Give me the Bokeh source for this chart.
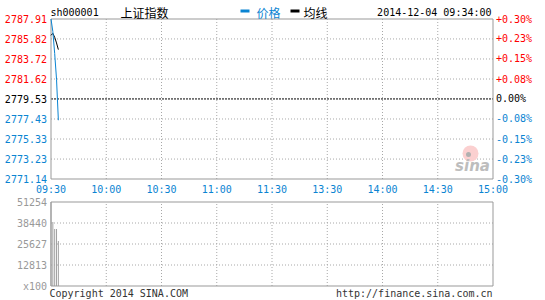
from bokeh.plotting import figure
from bokeh.models import ColumnDataSource, Range1d, Grid
from bokeh.embed import file_html
from bokeh.resources import INLINE
from bokeh.core.properties import value

# ---- data ----
prev_close = 2779.53
price_ticks = [2771.14, 2773.23, 2775.33, 2777.43, 2779.53, 2781.62, 2783.72, 2785.82, 2787.91]
price_tick_labels = ["2771.14", "2773.23", "2775.33", "2777.43", "2779.53", "2781.62", "2783.72", "2785.82", "2787.91"]
pct_labels = ["-0.30%", "-0.23%", "-0.15%", "-0.08%", "0.00%", "+0.08%", "+0.15%", "+0.23%", "+0.30%"]
time_ticks = [0, 30, 60, 90, 120, 150, 180, 210, 240]
time_labels = ["09:30", "10:00", "10:30", "11:00", "11:30", "13:30", "14:00", "14:30", "15:00"]
minutes = [0, 1, 2, 3, 4]
price = [2787.91, 2786.60, 2784.30, 2781.60, 2777.30]
avg_price = [2786.20, 2786.40, 2786.00, 2785.40, 2784.70]
volume = [51254, 39050, 34780, 34780, 27460]   # x100 shares
vol_ticks = [0, 12813, 25627, 38440, 51254]
vol_tick_labels = ["x100", "12813", "25627", "38440", "51254"]

MONO = "DejaVu Sans Mono"
CJK = "Noto Sans CJK SC"
RED = "#ff0000"
BLUE = "#0a84d2"
GRAY = "#999999"
GRID = "#a8a8a8"
FS = "10px"

# ---- pixel layout of the two panels on the 545x300 canvas ----
W, H = 545, 300
X0, X1 = 50.5, 492.5          # 09:30 .. 15:00
PY_TOP, PY_BOT = 18.5, 178.5  # price panel
VY_TOP, VY_BOT = 201.5, 285.5 # volume panel

t_lo, t_hi = time_ticks[0], time_ticks[-1]
p_lo, p_hi = price_ticks[0], price_ticks[-1]
v_lo, v_hi = vol_ticks[0], vol_ticks[-1]
kx = (t_hi - t_lo) / (X1 - X0)
kp = (p_hi - p_lo) / (PY_BOT - PY_TOP)
kv = (v_hi - v_lo) / (VY_BOT - VY_TOP)

def px2x(px):
    return t_lo + (px - X0) * kx

def py2p(py):
    return p_hi - (py - PY_TOP) * kp

def py2v(py):
    return v_hi - (py - VY_TOP) * kv

p = figure(width=W, height=H,
           x_range=Range1d(px2x(0), px2x(W)),
           y_range=Range1d(py2p(H), py2p(0)),
           x_axis_location=None, y_axis_location=None,
           toolbar_location=None, output_backend="svg",
           min_border=0, min_border_left=0, min_border_right=0,
           min_border_top=0, min_border_bottom=0)
p.extra_y_ranges = {"vol": Range1d(py2v(H), py2v(0))}
p.center = [r for r in p.center if not isinstance(r, Grid)]
p.outline_line_color = None
p.background_fill_color = "white"
p.border_fill_color = "white"

inner_t = time_ticks[1:-1]
# ---- price panel grid & frame ----
p.segment(x0=inner_t, x1=inner_t, y0=[p_lo] * len(inner_t), y1=[p_hi] * len(inner_t),
          line_color=GRID, line_dash="1 2", line_width=1)
grid_p = [t for t in price_ticks[1:-1] if t != prev_close]
p.segment(x0=[t_lo] * len(grid_p), x1=[t_hi] * len(grid_p), y0=grid_p, y1=grid_p,
          line_color=GRID, line_dash="1 2", line_width=1)
p.segment(x0=[t_lo], x1=[t_hi], y0=[prev_close], y1=[prev_close],
          line_color="black", line_dash="2 1", line_width=1)

# ---- watermark ----
p.scatter(x=[px2x(470)], y=[py2p(153)], size=16, marker="circle",
          fill_color="#fbd0d0", line_color=None)
p.scatter(x=[px2x(468)], y=[py2p(154)], size=5, marker="circle",
          fill_color="#b0b0b0", line_color=None)
p.text(x=[px2x(472)], y=[py2p(165)], text=["sina"], text_color="#bdbdbd",
       text_font=value("DejaVu Sans"), text_font_style="bold italic",
       text_font_size="15px", text_align="center", text_baseline="middle")

p.quad(left=[t_lo], right=[t_hi], bottom=[p_lo], top=[p_hi],
       fill_color=None, line_color=GRAY, line_width=1)

# ---- volume panel grid & frame ----
p.segment(x0=inner_t, x1=inner_t, y0=[v_lo] * len(inner_t), y1=[v_hi] * len(inner_t),
          line_color=GRID, line_dash="1 2", line_width=1, y_range_name="vol")
grid_v = vol_ticks[1:-1]
p.segment(x0=[t_lo] * len(grid_v), x1=[t_hi] * len(grid_v), y0=grid_v, y1=grid_v,
          line_color=GRID, line_dash="1 2", line_width=1, y_range_name="vol")
p.vbar(x=minutes, top=volume, bottom=0, width=kx * 1.0, fill_color="#a0a0a0",
       line_color=None, y_range_name="vol")
p.quad(left=[t_lo], right=[t_hi], bottom=[v_lo], top=[v_hi],
       fill_color=None, line_color=GRAY, line_width=1, y_range_name="vol")

# ---- series ----
p.line(minutes, avg_price, line_color="black", line_width=1)
p.line(minutes, price, line_color=BLUE, line_width=1)

# ---- tick labels ----
def label_color(v):
    if v == prev_close:
        return "#000000"
    return RED if v > prev_close else BLUE

tick_src = ColumnDataSource(dict(
    xl=[t_lo] * len(price_ticks), xr=[t_hi] * len(price_ticks), y=price_ticks,
    txt=price_tick_labels, pct=pct_labels, col=[label_color(v) for v in price_ticks]))
p.text(x="xl", y="y", text="txt", source=tick_src, x_offset=-4,
       text_color="col", text_font=value(MONO), text_font_size=FS,
       text_align="right", text_baseline="middle")
p.text(x="xr", y="y", text="pct", source=tick_src, x_offset=3,
       text_color="col", text_font=value(MONO), text_font_size=FS,
       text_align="left", text_baseline="middle")

time_src = ColumnDataSource(dict(x=time_ticks, y=[py2p(188.5)] * len(time_ticks), txt=time_labels))
p.text(x="x", y="y", text="txt", source=time_src, text_color=BLUE,
       text_font=value(MONO), text_font_size=FS, text_align="center", text_baseline="middle")

vol_src = ColumnDataSource(dict(x=[t_lo] * len(vol_ticks), y=vol_ticks, txt=vol_tick_labels))
p.text(x="x", y="y", text="txt", source=vol_src, x_offset=-4, text_color=GRAY,
       text_font=value(MONO), text_font_size=FS, text_align="right",
       text_baseline="middle", y_range_name="vol")

# ---- header ----
hy = py2p(11.5)
p.text(x=[px2x(50)], y=[hy], text=["sh000001"], text_color="black",
       text_font=value(MONO), text_font_size=FS, text_baseline="middle")
p.text(x=[px2x(120)], y=[hy], text=["上证指数"], text_color="black",
       text_font=value(CJK), text_font_size="12px", text_baseline="middle")
p.rect(x=[px2x(244.5), px2x(294.5)], y=[py2p(10.5)] * 2, width=9, height=3,
       width_units="screen", height_units="screen",
       fill_color=[BLUE, "black"], line_color=None)
p.text(x=[px2x(256), px2x(303)], y=[hy, hy], text=["价格", "均线"],
       text_color=[BLUE, "black"], text_font=value(CJK), text_font_size="12px",
       text_baseline="middle")
p.text(x=[px2x(491)], y=[hy], text=["2014-12-04 09:34:00"], text_color="black",
       text_font=value(MONO), text_font_size=FS, text_align="right", text_baseline="middle")

# ---- footer ----
fy = py2p(292.5)
p.text(x=[px2x(49)], y=[fy], text=["Copyright 2014 SINA.COM"], text_color="#333333",
       text_font=value(MONO), text_font_size=FS, text_baseline="middle")
p.text(x=[px2x(492)], y=[fy], text=["http://finance.sina.com.cn"], text_color="#333333",
       text_font=value(MONO), text_font_size=FS, text_align="right", text_baseline="middle")

open("out.html", "w").write(file_html(p, INLINE))
